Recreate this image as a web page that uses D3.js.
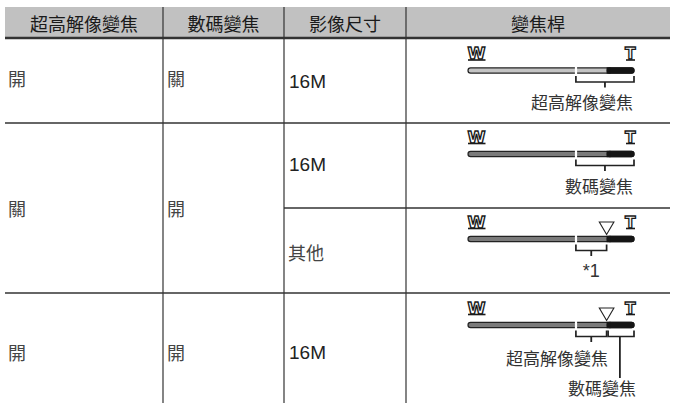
<!DOCTYPE html>
<html>
<head>
<meta charset="utf-8">
<script src="https://cdn.jsdelivr.net/npm/d3@7"></script>
<style>
  html, body { margin: 0; padding: 0; background: #fff; }
  svg { display: block; }
</style>
</head>
<body>
<svg id="chart" width="674" height="403"></svg>
<script>
// ---------- data ----------
const headers = ["超高解像變焦", "數碼變焦", "影像尺寸", "變焦桿"];
const superResZoom = ["開", "關", "開"];      // column 1 (row groups)
const digitalZoom = ["關", "開", "開"];       // column 2 (row groups)
const groupSpans = [1, 2, 1];                 // sub-rows per group
const imageSizes = ["16M", "16M", "其他", "16M"];  // column 3 (sub-rows)
// zoom lever: positions along the lever, W = 0, T = 1
const opticalEnd = 0.65;       // gap mark
const markerPos = 0.835;       // ▽ position
const barStyle = ["light", "mid", "mid", "mid"];
const showMarker = [false, false, true, true];
const brackets = [
  [{from: opticalEnd, to: 1, label: "超高解像變焦"}],
  [{from: opticalEnd, to: 1, label: "數碼變焦"}],
  [{from: opticalEnd, to: markerPos, label: "*1"}],
  [{from: opticalEnd, to: markerPos, label: "超高解像變焦"},
   {from: markerPos, to: 1, label: "數碼變焦"}]
];

// ---------- layout ----------
const svg = d3.select("#chart");
const colX = [5, 163, 284, 406, 670];
const headTop = 7, headBot = 37.5;
const rowEdges = [headBot, 123, 208, 293, 403];   // sub-row boundaries
const cjk = "'Noto Sans CJK TC', 'Noto Sans CJK SC', sans-serif";
const latin = "'Liberation Sans', Arial, sans-serif";

// header
svg.append("rect").attr("x", colX[0]).attr("y", headTop)
  .attr("width", colX[4] - colX[0]).attr("height", headBot - headTop)
  .attr("fill", "#c1c1c1");
svg.selectAll("text.head").data(headers).join("text")
  .attr("class", "head")
  .attr("x", (d, i) => (colX[i] + colX[i + 1]) / 2)
  .attr("y", (headTop + headBot) / 2 + 1)
  .attr("text-anchor", "middle").attr("dominant-baseline", "central")
  .attr("font-family", cjk).attr("font-size", 18).attr("font-weight", 400)
  .attr("fill", "#1a1a1a").text(d => d);

// grid lines
svg.append("line").attr("x1", colX[0]).attr("x2", colX[4])
  .attr("y1", 38).attr("y2", 38).attr("stroke", "#333").attr("stroke-width", 2.4);
[123, 293].forEach(y => svg.append("line").attr("x1", colX[0]).attr("x2", colX[4])
  .attr("y1", y).attr("y2", y).attr("stroke", "#333").attr("stroke-width", 1.3));
svg.append("line").attr("x1", colX[2]).attr("x2", colX[4])
  .attr("y1", 208).attr("y2", 208).attr("stroke", "#333").attr("stroke-width", 1.3);
[colX[1], colX[2], colX[3]].forEach(x => svg.append("line")
  .attr("x1", x).attr("x2", x).attr("y1", headTop).attr("y2", 403)
  .attr("stroke", "#333").attr("stroke-width", 1.2));

// group text (columns 1 & 2)
let start = 0;
const groupCenters = groupSpans.map(s => {
  const c = (rowEdges[start] + rowEdges[start + s]) / 2;
  start += s; return c;
});
const groupYOffset = [-2, 0, 4];
svg.selectAll("text.c1").data(superResZoom).join("text")
  .attr("x", colX[0] + 3).attr("y", (d, i) => groupCenters[i] + groupYOffset[i])
  .attr("dominant-baseline", "central")
  .attr("font-family", cjk).attr("font-size", 18).attr("fill", "#444").text(d => d);
svg.selectAll("text.c2").data(digitalZoom).join("text")
  .attr("x", colX[1] + 4).attr("y", (d, i) => groupCenters[i] + groupYOffset[i])
  .attr("dominant-baseline", "central")
  .attr("font-family", cjk).attr("font-size", 18).attr("fill", "#444").text(d => d);

// column 3
const subCenters = imageSizes.map((d, i) => (rowEdges[i] + rowEdges[i + 1]) / 2);
const subYOffset = [1, -1, 1, 4];
svg.selectAll("text.c3").data(imageSizes).join("text")
  .attr("x", (d) => d === "16M" ? colX[2] + 5 : colX[2] + 4)
  .attr("y", (d, i) => subCenters[i] + subYOffset[i])
  .attr("dominant-baseline", "central")
  .attr("font-family", d => d === "16M" ? latin : cjk)
  .attr("font-size", d => d === "16M" ? 19 : 18)
  .attr("fill", d => d === "16M" ? "#222" : "#444").text(d => d);

// ---------- zoom lever ----------
const x = d3.scaleLinear().domain([0, 1]).range([468, 634]);
const barY = [70.5, 154, 239, 325];
const fills = {light: "#c4c4c4", mid: "#7a7a7a"};
const barH = 5.2;

barY.forEach((cy, i) => {
  const g = svg.append("g");
  // W and T glyphs (outlined letters with base line)
  g.append("text").attr("x", x(0) - 0.5).attr("y", cy - 11.5)
    .attr("font-family", "'DejaVu Sans', sans-serif").attr("font-weight", "bold")
    .attr("font-size", 15.5).attr("fill", "#fff").attr("stroke", "#1a1a1a")
    .attr("stroke-width", 1.3).attr("textLength", 18).attr("lengthAdjust", "spacingAndGlyphs")
    .text("W");
  g.append("line").attr("x1", x(0)).attr("x2", x(0) + 17.5)
    .attr("y1", cy - 10.5).attr("y2", cy - 10.5).attr("stroke", "#1a1a1a").attr("stroke-width", 1.6);
  g.append("text").attr("x", x(1) + 1.5).attr("y", cy - 11.5).attr("text-anchor", "end")
    .attr("font-family", "'DejaVu Sans', sans-serif").attr("font-weight", "bold")
    .attr("font-size", 15.5).attr("fill", "#fff").attr("stroke", "#1a1a1a")
    .attr("stroke-width", 1.3).text("T");
  g.append("line").attr("x1", x(1) - 8).attr("x2", x(1) + 1)
    .attr("y1", cy - 10.5).attr("y2", cy - 10.5).attr("stroke", "#1a1a1a").attr("stroke-width", 1.6);

  // bar body
  g.append("rect").attr("x", x(0)).attr("y", cy - barH / 2)
    .attr("width", x(1) - x(0)).attr("height", barH).attr("rx", barH / 2)
    .attr("fill", fills[barStyle[i]]).attr("stroke", "#222").attr("stroke-width", 1.2);
  // dark (digital) end
  g.append("rect").attr("x", x(markerPos)).attr("y", cy - barH / 2 - 0.6)
    .attr("width", x(1) - x(markerPos) + 0.6).attr("height", barH + 1.2).attr("rx", (barH + 1.2) / 2)
    .attr("fill", "#151515");
  g.append("rect").attr("x", x(markerPos)).attr("y", cy - barH / 2 - 0.6)
    .attr("width", 4).attr("height", barH + 1.2).attr("fill", "#151515");
  // gap at optical end
  g.append("rect").attr("x", x(opticalEnd) - 1).attr("y", cy - barH / 2 - 2)
    .attr("width", 2.2).attr("height", barH + 4).attr("fill", "#fff");

  // marker
  if (showMarker[i]) {
    const mx = x(markerPos), ty = cy - 4.5;
    g.append("path")
      .attr("d", `M${mx},${ty} L${mx - 7.3},${ty - 12.5} L${mx + 7.3},${ty - 12.5} Z`)
      .attr("fill", "#fff").attr("stroke", "#222").attr("stroke-width", 1.1);
  }

  // brackets
  brackets[i].forEach((b, j) => {
    const top = cy + 5.5, bot = cy + 11.5;
    const x1 = x(b.from) + (j > 0 ? 1.5 : 0), x2 = x(b.to);
    g.append("path")
      .attr("d", `M${x1},${top} V${bot} H${x2} V${top}`)
      .attr("fill", "none").attr("stroke", "#222").attr("stroke-width", 1.7);
    const isLong = (i === 3 && j === 1);
    const tx = isLong ? x(0.915) : (x1 + x2) / 2;
    g.append("line").attr("x1", tx).attr("x2", tx)
      .attr("y1", bot).attr("y2", isLong ? cy + 53 : cy + 17)
      .attr("stroke", "#222").attr("stroke-width", 1.8);
    let lx, anchor, ly;
    if (b.label === "*1") { lx = tx; anchor = "middle"; ly = cy + 32; }
    else if (i === 3 && j === 0) { lx = x(markerPos) + 1.5; anchor = "end"; ly = cy + 32; }
    else if (i === 3 && j === 1) { lx = x(1) + 2; anchor = "end"; ly = cy + 62; }
    else { lx = x(1) - 1; anchor = "end"; ly = cy + 31; }
    g.append("text").attr("x", lx).attr("y", ly)
      .attr("text-anchor", anchor).attr("dominant-baseline", "central")
      .attr("font-family", b.label === "*1" ? latin : cjk)
      .attr("font-size", b.label === "*1" ? 18 : 17)
      .attr("fill", "#333").text(b.label);
  });
});
</script>
</body>
</html>
